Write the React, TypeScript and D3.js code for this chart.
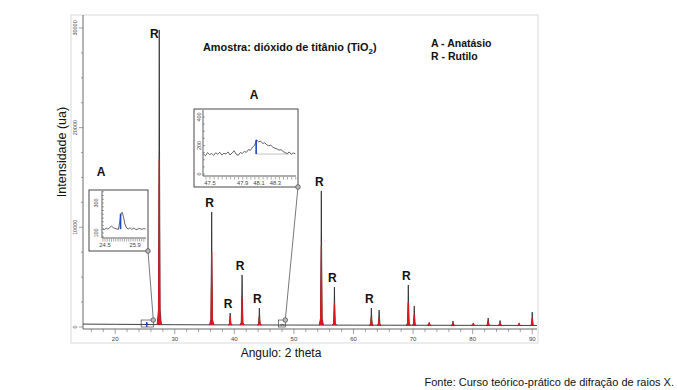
import React from "react";
import * as d3 from "d3";

const W = 677;
const H = 390;
const FONT = "'Liberation Sans', Arial, sans-serif";

// background of the pattern (counts) read along the baseline
const bgAngle = [14.6, 20, 25, 30, 40, 50, 60, 70, 80, 90.8];
const bgCount = [290, 270, 250, 230, 210, 195, 185, 175, 165, 155];

// peaks: 2theta, top of the measured (black) profile, top of the red overlay
const peakAngle = [25.3, 27.4, 36.2, 39.3, 41.3, 44.2, 48.05, 54.6, 56.8, 63.0, 64.3, 69.2, 70.2, 72.7, 76.7, 80.1, 82.6, 84.6, 87.8, 90.0];
const peakTop = [420, 29800, 11540, 1400, 5220, 1900, 260, 13650, 4010, 1900, 1700, 4210, 2110, 450, 600, 380, 900, 650, 380, 1500];
const peakRed = [0, 16860, 7520, 1100, 2900, 1000, 0, 8130, 2410, 1000, 900, 2510, 1300, 350, 420, 300, 620, 450, 300, 900];
const peakLabel = ["", "R", "R", "R", "R", "R", "", "R", "R", "R", "", "R", "", "", "", "", "", "", "", ""];

const xMajor = [20, 30, 40, 50, 60, 70, 80, 90];
const yMajor = [0, 10000, 20000, 30000];

// inset 1: anatase (101) near 25.3
const in1Angle = [24.4, 24.48, 24.56, 24.64, 24.72, 24.8, 24.88, 24.96, 25.04, 25.12, 25.18, 25.24, 25.3, 25.36, 25.42, 25.5, 25.58, 25.66, 25.74, 25.82, 25.9, 25.98, 26.06, 26.14, 26.22, 26.3, 26.38];
const in1Count = [128, 124, 132, 126, 137, 146, 136, 131, 127, 125, 170, 232, 238, 205, 160, 133, 127, 135, 124, 132, 126, 123, 131, 128, 124, 130, 126];
const in1XTicks = [24.5, 25.9];
const in1YTicks = [100, 300];
const in1Blue = [25.22, 126, 228];

// inset 2: anatase (200) near 48.07
const in2Angle = [47.42, 47.445, 47.47, 47.495, 47.52, 47.545, 47.57, 47.595, 47.62, 47.645, 47.67, 47.695, 47.72, 47.745, 47.77, 47.795, 47.82, 47.845, 47.87, 47.895, 47.92, 47.945, 47.97, 47.995, 48.02, 48.045, 48.07, 48.095, 48.12, 48.145, 48.17, 48.195, 48.22, 48.245, 48.27, 48.295, 48.32, 48.345, 48.37, 48.395, 48.42, 48.445, 48.47, 48.495, 48.52, 48.545];
const in2Count = [141, 128, 150, 136, 144, 131, 149, 138, 152, 133, 146, 140, 155, 134, 147, 163, 139, 131, 150, 145, 158, 152, 171, 166, 188, 201, 240, 226, 231, 214, 219, 205, 198, 202, 188, 181, 176, 168, 171, 158, 150, 143, 155, 138, 148, 141];
const in2XTicks = [47.5, 47.9, 48.1, 48.3];
const in2YTicks = [0, 200, 400];
const in2Blue = [48.065, 140, 238];
const in2Base = [48.06, 48.47, 140];

const x = d3.scaleLinear().domain([14.6, 90.8]).range([83, 537]);
const y = d3.scaleLinear().domain([0, 31300]).range([327, 15]);
const bg = d3.scaleLinear().domain(bgAngle).range(bgCount);

type InsetProps = {
  box: [number, number, number, number];
  plot: [number, number, number, number];
  xDomain: [number, number];
  yDomain: [number, number];
  angle: number[];
  count: number[];
  xTicks: number[];
  yTicks: number[];
  xStep: number;
  yStep: number;
  blue: number[];
  base?: number[];
  yLabelX: number;
  zoom: [number, number];
};

function Inset(p: InsetProps) {
  const [bx, by, bw, bh] = p.box;
  const [l, t, r, b] = p.plot;
  const ix = d3.scaleLinear().domain(p.xDomain).range([l, r]);
  const iy = d3.scaleLinear().domain(p.yDomain).range([b, t]);
  const line = d3.line<number>().x((_, i) => ix(p.angle[i])).y((c) => iy(c));
  const minorX = d3.range(Math.ceil(p.xDomain[0] / p.xStep) * p.xStep, p.xDomain[1], p.xStep);
  const minorY = d3.range(Math.ceil(p.yDomain[0] / p.yStep) * p.yStep, p.yDomain[1], p.yStep);
  // small window on the main pattern
  const zx0 = x(p.zoom[0]);
  const zx1 = x(p.zoom[1]);
  const zy0 = y(0);
  const zy1 = y(700);
  return (
    <g>
      <rect x={bx} y={by} width={bw} height={bh} fill="white" stroke="#333" strokeWidth={0.9} />
      <line x1={l} x2={l} y1={t} y2={b} stroke="#333" strokeWidth={0.8} />
      <line x1={l} x2={r} y1={b} y2={b} stroke="#333" strokeWidth={0.8} />
      {minorY.map((v, i) => (
        <line key={"my" + i} x1={l} x2={l + 2} y1={iy(v)} y2={iy(v)} stroke="#555" strokeWidth={0.5} />
      ))}
      {minorX.map((v, i) => (
        <line key={"mx" + i} x1={ix(v)} x2={ix(v)} y1={b + 1} y2={b + 3.5} stroke="#555" strokeWidth={0.5} />
      ))}
      {p.yTicks.map((v) => (
        <text key={"yt" + v} transform={`translate(${p.yLabelX},${iy(v)}) rotate(-90)`} textAnchor="middle" dy="0.35em" fontSize={5.5} fill="#444" fontFamily={FONT}>
          {v}
        </text>
      ))}
      {p.xTicks.map((v) => (
        <text key={"xt" + v} x={ix(v)} y={b + 9} textAnchor="middle" fontSize={5.8} fill="#444" fontFamily={FONT}>
          {v}
        </text>
      ))}
      {p.base && (
        <line x1={ix(p.base[0])} x2={ix(p.base[1])} y1={iy(p.base[2])} y2={iy(p.base[2])} stroke="#aaa" strokeWidth={0.7} />
      )}
      <path d={line(p.count) || ""} fill="none" stroke="#222" strokeWidth={0.7} />
      <line x1={ix(p.blue[0])} x2={ix(p.blue[0])} y1={iy(p.blue[1])} y2={iy(p.blue[2])} stroke="#1f45c8" strokeWidth={1.6} />
      <rect x={zx0} y={zy1} width={zx1 - zx0} height={zy0 - zy1} fill="none" stroke="#444" strokeWidth={0.7} />
      <line x1={bx + bw} y1={by + bh} x2={zx1} y2={zy1} stroke="#555" strokeWidth={0.8} />
      <circle cx={bx + bw} cy={by + bh} r={2.3} fill="#bbb" stroke="#444" strokeWidth={0.7} />
      <circle cx={zx1} cy={zy1} r={2.3} fill="#bbb" stroke="#444" strokeWidth={0.7} />
    </g>
  );
}

export default function App() {
  const line = d3.line<[number, number]>().x((d) => x(d[0])).y((d) => y(d[1]));

  const bgPath = line(bgAngle.map((a, i) => [a, bgCount[i]] as [number, number])) || "";
  const peakPath = (a: number, top: number, w: number) => {
    const b = bg(a);
    const h = top - b;
    return line([
      [a - 2.5 * w, b],
      [a - w, b + 0.05 * h],
      [a - 0.3 * w, b + 0.6 * h],
      [a, top],
      [a + 0.3 * w, b + 0.6 * h],
      [a + w, b + 0.05 * h],
      [a + 2.5 * w, b],
    ]) || "";
  };

  const xMinor = d3.range(16, 91, 2);
  const yMinor = d3.range(0, 31300, 2500);

  return (
    <svg width={W} height={H} style={{ position: "absolute", left: 0, top: 0, background: "white" }} fontFamily={FONT}>
      <rect x={71} y={15} width={467} height={328} fill="none" stroke="#d9d9d9" strokeWidth={1} />

      {/* axes */}
      <line x1={83} x2={83} y1={15} y2={329} stroke="#444" strokeWidth={0.8} />
      <line x1={83} x2={537} y1={329} y2={329} stroke="#444" strokeWidth={0.8} />
      {yMinor.map((v) => (
        <line key={"ym" + v} x1={v % 10000 === 0 ? 79 : 81} x2={83} y1={y(v)} y2={y(v)} stroke="#666" strokeWidth={0.6} />
      ))}
      {yMajor.map((v) => (
        <text key={"yl" + v} transform={`translate(75,${y(v)}) rotate(-90)`} textAnchor="middle" dy="0.35em" fontSize={5.5} fill="#444">
          {v}
        </text>
      ))}
      {xMinor.map((v) => (
        <line key={"xm" + v} x1={x(v)} x2={x(v)} y1={329} y2={v % 10 === 0 ? 334 : 332} stroke="#666" strokeWidth={0.6} />
      ))}
      {xMajor.map((v) => (
        <text key={"xl" + v} x={x(v)} y={341} textAnchor="middle" fontSize={6} fill="#444">
          {v}
        </text>
      ))}

      {/* pattern */}
      <path d={bgPath} fill="none" stroke="#2b2b2b" strokeWidth={0.9} />
      {peakAngle.map((a, i) => (
        <path key={"pk" + i} d={peakPath(a, peakTop[i], 0.14)} fill="#2b2b2b" stroke="#2b2b2b" strokeWidth={0.8} />
      ))}
      {peakAngle.map((a, i) =>
        peakRed[i] > 0 ? (
          <path key={"rd" + i} d={peakPath(a, peakRed[i], 0.11)} fill="#e3161c" stroke="#e3161c" strokeWidth={1.1} />
        ) : null
      )}
      <line x1={x(25.3)} x2={x(25.3)} y1={y(0)} y2={y(500)} stroke="#1f45c8" strokeWidth={1.4} />

      {peakAngle.map((a, i) => {
        if (!peakLabel[i]) return null;
        const ty = y(peakTop[i]) - 5;
        const clamped = ty < 38;
        return (
          <text key={"lb" + i} x={x(a) - (clamped ? 5 : 2)} y={clamped ? 38 : ty} textAnchor="middle" fontSize={12} fontWeight="bold" fill="#111">
            {peakLabel[i]}
          </text>
        );
      })}

      <Inset
        box={[89, 190, 59, 61]}
        plot={[102, 191, 146, 238]}
        xDomain={[24.36, 26.4]}
        yDomain={[66.7, 380]}
        angle={in1Angle}
        count={in1Count}
        xTicks={in1XTicks}
        yTicks={in1YTicks}
        xStep={0.1}
        yStep={25}
        blue={in1Blue}
        yLabelX={96.5}
        zoom={[24.36, 26.4]}
      />
      <Inset
        box={[194, 109, 104, 78]}
        plot={[203, 110, 296, 176]}
        xDomain={[47.414, 48.553]}
        yDomain={[-14, 449]}
        angle={in2Angle}
        count={in2Count}
        xTicks={in2XTicks}
        yTicks={in2YTicks}
        xStep={0.05}
        yStep={50}
        blue={in2Blue}
        base={in2Base}
        yLabelX={199}
        zoom={[47.414, 48.553]}
      />
      <text x={101} y={176} textAnchor="middle" fontSize={12} fontWeight="bold" fill="#111">A</text>
      <text x={254} y={99} textAnchor="middle" fontSize={12} fontWeight="bold" fill="#111">A</text>

      {/* title and legend */}
      <text x={203} y={51} fontSize={10.9} fontWeight="bold" fill="#111">
        <tspan>Amostra: dióxido de titânio (TiO</tspan>
        <tspan dy={3} fontSize={8}>2</tspan>
        <tspan dy={-3}>)</tspan>
      </text>
      <text x={431} y={47} fontSize={10.5} fontWeight="bold" fill="#111">A - Anatásio</text>
      <text x={431} y={60} fontSize={10.5} fontWeight="bold" fill="#111">R - Rutilo</text>

      {/* axis titles */}
      <text transform="translate(66,152) rotate(-90)" textAnchor="middle" fontSize={12.5} fill="#111">
        Intensidade (ua)
      </text>
      <text x={281} y={357} textAnchor="middle" fontSize={12} fill="#111">Angulo: 2 theta</text>
      <text x={674} y={386} textAnchor="end" fontSize={11} fill="#111">
        Fonte: Curso teórico-prático de difração de raios X.
      </text>
    </svg>
  );
}
